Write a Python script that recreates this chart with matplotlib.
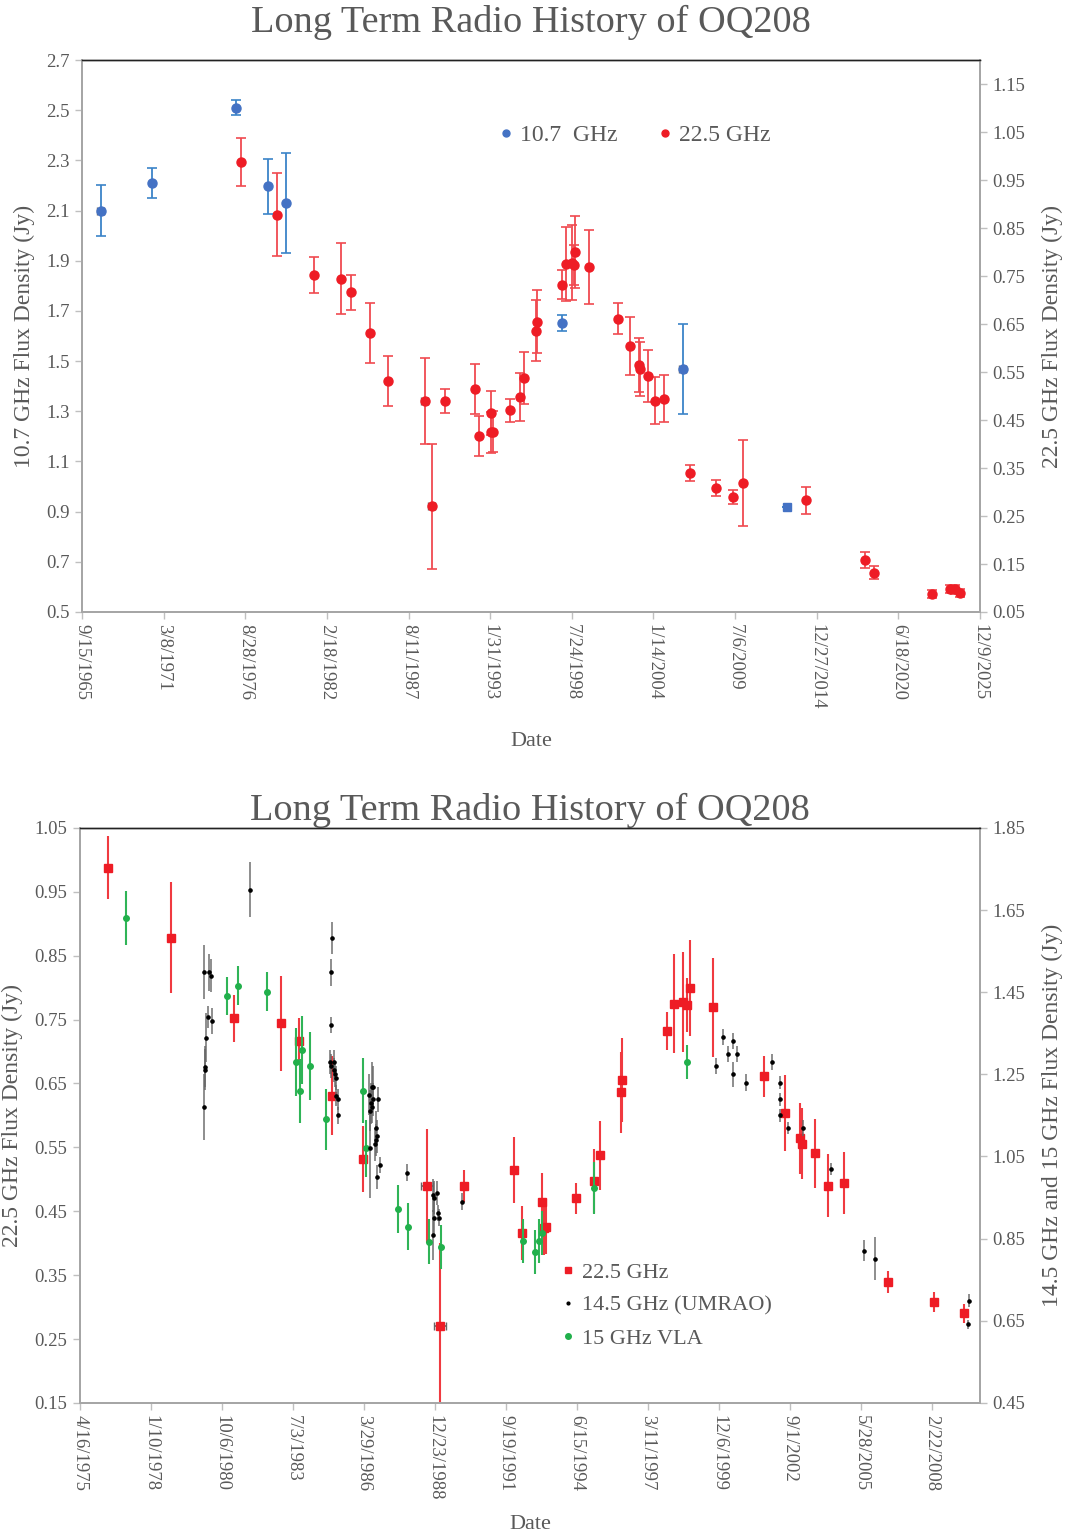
import datetime as dt
import numpy as np
import matplotlib
matplotlib.use("Agg")
import matplotlib.pyplot as plt
import matplotlib.dates as mdates
from matplotlib.lines import Line2D

plt.rcParams['font.family'] = ['Liberation Serif', 'DejaVu Serif']

TXT = '#595959'
AXC = '#a6a6a6'

# 10.7 GHz (decimal year, Jy, error Jy, date error in days)
k10_t = [1966.96, 1970.38, 1976.03, 1978.18, 1979.39, 1997.90, 2006.00, 2013.02]
k10_s = [2.10, 2.21, 2.51, 2.197, 2.129, 1.652, 1.468, 0.917]
k10_e = [0.10, 0.06, 0.03, 0.11, 0.20, 0.03, 0.18, 0.0]
k10_xe = [90, 0, 0, 0, 0, 0, 80, 0]

# 22.5 GHz
k22_t = [1976.35, 1978.80, 1981.24, 1983.05, 1983.75, 1985.00, 1986.20, 1988.68, 1989.17, 1990.08,
         1992.04, 1992.34, 1993.11, 1993.17, 1993.25, 1994.40, 1995.10, 1995.33, 1996.16, 1996.20,
         1997.91, 1998.20, 1998.55, 1998.68, 1998.80, 1999.70, 2001.66, 2002.46, 2003.06, 2003.13,
         2003.65, 2004.13, 2004.75, 2006.46, 2008.23, 2009.38, 2010.06, 2014.25, 2018.20, 2018.83,
         2022.74, 2023.90, 2024.28, 2024.58]
k22_s = [0.988, 0.878, 0.752, 0.744, 0.716, 0.631, 0.532, 0.490, 0.270, 0.490,
         0.515, 0.416, 0.464, 0.424, 0.426, 0.470, 0.497, 0.538, 0.636, 0.655,
         0.732, 0.775, 0.778, 0.773, 0.800, 0.769, 0.661, 0.604, 0.564, 0.556,
         0.541, 0.490, 0.494, 0.339, 0.308, 0.290, 0.319, 0.283, 0.158, 0.132,
         0.088, 0.098, 0.097, 0.090]
k22_e = [0.050, 0.087, 0.037, 0.074, 0.036, 0.062, 0.052, 0.089, 0.131, 0.025,
         0.052, 0.042, 0.046, 0.043, 0.043, 0.024, 0.050, 0.054, 0.064, 0.066,
         0.030, 0.077, 0.078, 0.042, 0.075, 0.077, 0.032, 0.060, 0.056, 0.056,
         0.054, 0.049, 0.049, 0.017, 0.016, 0.015, 0.090, 0.028, 0.016, 0.013,
         0.008, 0.009, 0.009, 0.008]
k22_xe = [0, 0, 0, 0, 0, 0, 0, 85, 85, 0] + [0] * 34

# 14.5 GHz UMRAO
um_t = [1980.06, 1980.27, 1980.33, 1980.24, 1980.39, 1980.14, 1980.11, 1980.10, 1980.06, 1981.86,
        1984.97, 1985.02, 1984.97, 1984.93, 1984.98, 1985.08, 1985.07, 1985.12, 1985.15, 1985.17,
        1985.23, 1985.23, 1986.46, 1986.43, 1986.50, 1986.54, 1986.60, 1986.57, 1986.56, 1986.47,
        1986.78, 1986.71, 1986.74, 1986.70, 1986.67, 1986.87, 1986.73, 1987.90, 1988.89, 1988.93,
        1989.05, 1988.94, 1989.08, 1989.12, 1988.89, 1990.02, 1999.83, 2000.09, 2000.29, 2000.47,
        2000.47, 2000.61, 2000.97, 2001.97, 2002.27, 2002.27, 2002.27, 2002.58, 2003.18, 2004.24,
        2005.52, 2005.96, 2009.52, 2009.57]
um_s = [1.499, 1.499, 1.490, 1.390, 1.380, 1.339, 1.269, 1.261, 1.170, 1.700,
        1.499, 1.581, 1.370, 1.280, 1.270, 1.280, 1.261, 1.250, 1.241, 1.198,
        1.189, 1.150, 1.070, 1.200, 1.180, 1.220, 1.220, 1.189, 1.171, 1.161,
        1.189, 1.120, 1.099, 1.090, 1.080, 1.029, 1.000, 1.011, 0.956, 0.950,
        0.961, 0.901, 0.912, 0.901, 0.859, 0.940, 1.270, 1.341, 1.300, 1.331,
        1.250, 1.300, 1.230, 1.280, 1.230, 1.189, 1.150, 1.120, 1.120, 1.020,
        0.821, 0.801, 0.641, 0.699]
um_e = [0.065, 0.045, 0.040, 0.026, 0.032, 0.060, 0.050, 0.050, 0.080, 0.066,
        0.033, 0.039, 0.020, 0.030, 0.030, 0.030, 0.030, 0.030, 0.030, 0.025,
        0.025, 0.020, 0.120, 0.050, 0.050, 0.060, 0.050, 0.040, 0.040, 0.050,
        0.030, 0.040, 0.040, 0.040, 0.040, 0.020, 0.030, 0.020, 0.040, 0.040,
        0.030, 0.040, 0.020, 0.020, 0.060, 0.020, 0.020, 0.020, 0.020, 0.020,
        0.030, 0.020, 0.020, 0.020, 0.015, 0.015, 0.015, 0.015, 0.020, 0.015,
        0.025, 0.052, 0.012, 0.016]

# 15 GHz VLA
vla_t = [1977.07, 1980.96, 1981.38, 1982.51, 1983.62, 1983.76, 1983.84, 1984.16, 1984.77, 1986.21,
         1986.32, 1987.54, 1987.95, 1988.76, 1989.20, 1992.36, 1992.85, 1992.99, 1993.09, 1995.12,
         1998.70]
vla_s = [1.631, 1.441, 1.466, 1.451, 1.280, 1.210, 1.310, 1.270, 1.141, 1.210,
         1.070, 0.922, 0.879, 0.843, 0.829, 0.844, 0.818, 0.844, 0.863, 0.973,
         1.280]
vla_e = [0.065, 0.046, 0.047, 0.047, 0.083, 0.078, 0.083, 0.082, 0.074, 0.079,
         0.069, 0.059, 0.057, 0.054, 0.054, 0.054, 0.053, 0.054, 0.054, 0.063,
         0.042]


def yr2num(years):
    out = []
    for v in years:
        y = int(v)
        start = dt.datetime(y, 1, 1)
        ndays = (dt.datetime(y + 1, 1, 1) - start).days
        out.append(mdates.date2num(start + dt.timedelta(days=(v - y) * ndays)))
    return np.array(out)


def date_axis(ax, first, step, n, last):
    ticks = [first + dt.timedelta(days=step * i) for i in range(n)]
    ax.set_xticks(mdates.date2num(ticks))
    ax.set_xticklabels([f"{d.month}/{d.day}/{d.year}" for d in ticks], rotation=-90)
    ax.set_xlim(mdates.date2num(first), mdates.date2num(last))


def style(ax):
    for side in ('left', 'right', 'bottom'):
        ax.spines[side].set_color(AXC)
        ax.spines[side].set_linewidth(1.3)
    ax.spines['top'].set_color('#222222')
    ax.spines['top'].set_linewidth(1.0)
    ax.tick_params(direction='out', length=5, width=1, color='#bfbfbf',
                   labelcolor=TXT, labelsize=13.5, pad=4)


fig = plt.figure(figsize=(10.69, 15.40), dpi=100)

# ---- upper panel: 10.7 and 22.5 GHz ----
ax1 = fig.add_axes([0.0767, 0.6026, 0.8400, 0.3584])
ax1b = ax1.twinx()
ax1.set_zorder(ax1b.get_zorder() + 1)
ax1.patch.set_visible(False)

x22 = yr2num(k22_t)
ax1b.errorbar(x22, k22_s, yerr=k22_e, fmt='none', ecolor='#f04a50', elinewidth=1.3,
              capsize=3.5, capthick=1.2, zorder=2)
ax1b.errorbar(x22, k22_s, xerr=k22_xe, fmt='none', ecolor='#666666', elinewidth=1.2,
              capsize=3, zorder=2)
ax1b.plot(x22, k22_s, 'o', color='#ee1c25', ms=6.5, zorder=3)

x10 = yr2num(k10_t)
ax1.errorbar(x10, k10_s, yerr=k10_e, fmt='none', ecolor='#3b84c8', elinewidth=1.3,
             capsize=3.5, capthick=1.2, zorder=2)
ax1.errorbar(x10, k10_s, xerr=k10_xe, fmt='none', ecolor='#666666', elinewidth=1.2,
             capsize=3, zorder=2)
ax1.plot(x10[:-1], k10_s[:-1], 'o', color='#4472c4', ms=6.5, zorder=3)
ax1.plot(x10[-1:], k10_s[-1:], 's', color='#4472c4', ms=6, zorder=3)

ax1.set_ylim(0.5, 2.7)
ax1.set_yticks(np.arange(0.5, 2.71, 0.2))
ax1.set_yticklabels([f"{v:.1f}" for v in np.arange(0.5, 2.71, 0.2)])
ax1b.set_ylim(0.05, 1.20)
ax1b.set_yticks(np.arange(0.05, 1.16, 0.1))
ax1b.set_yticklabels([f"{v:.2f}" for v in np.arange(0.05, 1.16, 0.1)])
date_axis(ax1, dt.datetime(1965, 9, 15), 2000, 12, dt.datetime(2025, 12, 9))
style(ax1)
style(ax1b)

ax1.set_ylabel('10.7 GHz Flux Density (Jy)', fontsize=17, color=TXT, labelpad=8)
ax1b.set_ylabel('22.5 GHz Flux Density (Jy)', fontsize=17, color=TXT, rotation=90, labelpad=12)
ax1.set_xlabel('Date', fontsize=16, color=TXT, labelpad=16)
ax1.set_title('Long Term Radio History of OQ208', fontsize=27.5, color=TXT, pad=20)

h1 = [Line2D([], [], ls='none', marker='o', color='#4472c4', ms=5),
      Line2D([], [], ls='none', marker='o', color='#ee1c25', ms=5)]
ax1.legend(h1, ['10.7  GHz', '22.5 GHz'], loc='center left', bbox_to_anchor=(0.435, 0.864),
           ncol=2, frameon=False, fontsize=17, labelcolor=TXT, handletextpad=0.1,
           columnspacing=1.5, handlelength=1.0)

# ---- lower panel: 22.5, 14.5 and 15 GHz ----
ax2 = fig.add_axes([0.0748, 0.0890, 0.8419, 0.3734])
ax2b = ax2.twinx()
lo2, hi2 = dt.datetime(1975, 4, 16), dt.datetime(2009, 12, 30)
keep = x22 <= mdates.date2num(hi2)

ax2.errorbar(x22[keep], np.array(k22_s)[keep], yerr=np.array(k22_e)[keep], fmt='none',
             ecolor='#f03a40', elinewidth=1.5, capsize=0, zorder=2)
ax2.errorbar(x22[keep], np.array(k22_s)[keep], xerr=np.array(k22_xe)[keep], fmt='none',
             ecolor='#666666', elinewidth=1.2, capsize=3, zorder=2)
ax2.plot(x22[keep], np.array(k22_s)[keep], 's', color='#ee1c25', ms=5.5, zorder=3)

xum = yr2num(um_t)
xvla = yr2num(vla_t)
ax2b.errorbar(xvla, vla_s, yerr=vla_e, fmt='none', ecolor='#2fb457', elinewidth=1.5,
              capsize=0, zorder=2)
ax2b.plot(xvla, vla_s, 'o', color='#21b04b', ms=4, zorder=3)
ax2b.errorbar(xum, um_s, yerr=um_e, fmt='none', ecolor='#666666', elinewidth=1.3,
              capsize=0, alpha=0.8, zorder=2)
ax2b.plot(xum, um_s, 'o', color='black', ms=2.3, zorder=3)

ax2.set_ylim(0.15, 1.05)
ax2.set_yticks(np.arange(0.15, 1.051, 0.1))
ax2.set_yticklabels([f"{v:.2f}" for v in np.arange(0.15, 1.051, 0.1)])
ax2b.set_ylim(0.45, 1.85)
ax2b.set_yticks(np.arange(0.45, 1.851, 0.2))
ax2b.set_yticklabels([f"{v:.2f}" for v in np.arange(0.45, 1.851, 0.2)])
date_axis(ax2, lo2, 1000, 13, hi2)
style(ax2)
style(ax2b)

ax2.set_ylabel('22.5 GHz Flux Density (Jy)', fontsize=17, color=TXT, labelpad=8)
ax2b.set_ylabel('14.5 GHz and 15 GHz Flux Density (Jy)', fontsize=17, color=TXT,
                rotation=90, labelpad=12)
ax2.set_xlabel('Date', fontsize=16, color=TXT, labelpad=10)
ax2.set_title('Long Term Radio History of OQ208', fontsize=27.5, color=TXT, pad=1)

h2 = [Line2D([], [], ls='none', marker='s', color='#ee1c25', ms=5),
      Line2D([], [], ls='none', marker='o', color='black', ms=2),
      Line2D([], [], ls='none', marker='o', color='#21b04b', ms=4)]
ax2b.legend(h2, ['22.5 GHz', '14.5 GHz (UMRAO)', '15 GHz VLA'], loc='upper left',
            bbox_to_anchor=(0.508, 0.279), frameon=False, fontsize=16, labelcolor=TXT,
            handletextpad=0.1, handlelength=1.0, labelspacing=0.55)

fig.savefig('out.png', dpi=100)
